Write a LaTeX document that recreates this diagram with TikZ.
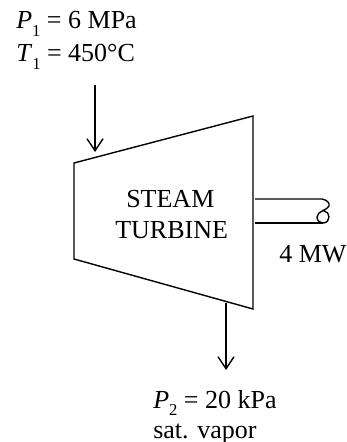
\documentclass[tikz,border=0pt]{standalone}
\usepackage{fontspec}
\setmainfont{Liberation Serif}
\usetikzlibrary{arrows.meta}
\newcommand{\lowsub}[1]{\raisebox{-0.28em}{\fontsize{12.5}{14}\selectfont #1}}
\tikzset{px/.style={x=0.75pt,y=-0.75pt},
 lbl/.style={inner sep=0pt,anchor=base west,font=\fontsize{19.5}{22}\selectfont},
 ln/.style={line width=1.05pt,draw=black},
 arr/.style={ln,-{Straight Barb[length=9pt,width=12pt,line width=1.05pt]}}}
\begin{document}
\begin{tikzpicture}[px]
\useasboundingbox (0,0) rectangle (346,442);
\coordinate (a) at (74,163);
\coordinate (b) at (253,116);
\coordinate (c) at (253,309);
\coordinate (d) at (74,259);
\draw[ln] (a) -- (b) -- (c) -- (d) -- cycle;
\node[lbl] (p1) at (16,29) {\textit{P}\lowsub{1} = 6 MPa};
\node[lbl] (t1) at (16,62) {\textit{T}\lowsub{1} = 450°C};
\coordinate (i1) at (95,85);
\coordinate (i2) at (95,152);
\draw[arr] (i1) -- (i2);
\node[lbl] (s) at (126,207) {STEAM};
\node[lbl] (tb) at (115,238) {TURBINE};
\coordinate (o1) at (255,199);
\coordinate (o2) at (255,223);
\draw[ln] (o1) -- (322,199) .. controls (327,200) and (330,203) .. (329,206) .. controls (328,210) and (317,211) .. (317,217) .. controls (317,221) and (320,223) .. (323,223) .. controls (327,223) and (329,220) .. (329,217) .. controls (329,214) and (327,211) .. (324,211);
\draw[ln] (o2) -- (323,223);
\node[lbl] (mw) at (279,262) {4 MW};
\coordinate (e1) at (226,303);
\coordinate (e2) at (226,370);
\draw[arr] (e1) -- (e2);
\node[lbl] (p2) at (153,408) {\textit{P}\lowsub{2} = 20 kPa};
\node[lbl] (sv) at (153,438) {sat. vapor};
\end{tikzpicture}
\end{document}
